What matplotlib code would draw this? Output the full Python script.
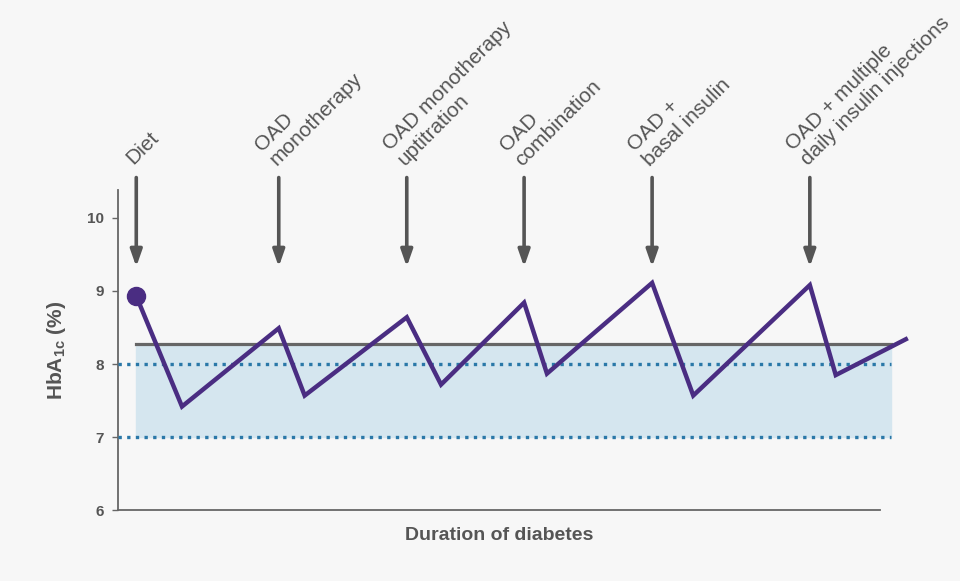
import numpy as np
import matplotlib
matplotlib.use("Agg")
import matplotlib.pyplot as plt

plt.rcParams['font.family'] = ['Liberation Sans', 'DejaVu Sans']
plt.rcParams['mathtext.fontset'] = 'custom'
plt.rcParams['mathtext.rm'] = 'Liberation Sans'

# HbA1c course over time (x in arbitrary duration units 0..100)
hba1c_x = [2.4, 8.4, 21.1, 24.5, 37.9, 42.4, 53.3, 56.3, 70.1, 75.5, 90.8, 94.2, 103.4]
hba1c_y = [8.93, 7.42, 8.49, 7.57, 8.64, 7.72, 8.84, 7.87, 9.11, 7.57, 9.08, 7.85, 8.34]

# treatment steps
step_x = [2.4, 21.1, 37.9, 53.3, 70.1, 90.8]
step_labels = ['Diet', 'OAD\nmonotherapy', 'OAD monotherapy\nuptitration',
               'OAD\ncombination', 'OAD +\nbasal insulin',
               'OAD + multiple\ndaily insulin injections']

band_x = [2.4, 101.4]
band_lo, band_hi = 7.0, 8.27
target_lines = [7.0, 8.0]
yticks = [6, 7, 8, 9, 10]

bg = '#f7f7f7'
grey = '#555555'
purple = '#4a2d82'

fig = plt.figure(figsize=(9.6, 5.81), dpi=100, facecolor=bg)
ax = fig.add_axes([0.1229, 0.1215, 0.7937, 0.5515], facecolor=bg)
ax.set_xlim(0, 100)
ax.set_ylim(6, 10.38)

# target band
ax.fill_between(band_x, band_lo, band_hi, color='#d5e6ef', clip_on=False, zorder=1)
ax.plot(band_x, [band_hi, band_hi], color='#666666', lw=2.3, clip_on=False, zorder=2)
for v in target_lines:
    ax.plot([0, band_x[1]], [v, v], color='#2a78a8', lw=2.4, ls=(0, (1, 1.6)),
            clip_on=False, zorder=3)

# HbA1c line
ax.plot(hba1c_x, hba1c_y, color=purple, lw=3.2, clip_on=False, zorder=4,
        solid_joinstyle='miter')
ax.plot(hba1c_x[0], hba1c_y[0], 'o', color=purple, ms=13, zorder=5, clip_on=False)

# arrows and step labels
for x, lab in zip(step_x, step_labels):
    ax.annotate('', xy=(x, 9.33), xytext=(x, 10.55), xycoords='data',
                arrowprops=dict(arrowstyle='-|>,head_width=0.35,head_length=1.0',
                                color=grey, lw=2.6, shrinkA=0, shrinkB=0),
                annotation_clip=False)
    ax.annotate(lab, xy=(x, 10.55), xytext=(-2.5, 9), textcoords='offset points',
                rotation=45, rotation_mode='anchor', ha='left', va='baseline',
                fontsize=15, color=grey, linespacing=1.15, annotation_clip=False)

for s in ['top', 'right']:
    ax.spines[s].set_visible(False)
for s in ['left', 'bottom']:
    ax.spines[s].set_color('#666666')
    ax.spines[s].set_linewidth(1.3)

ax.set_xticks([])
ax.set_yticks(yticks)
ax.tick_params(axis='y', length=4, width=1, color='#666666', labelsize=11,
               labelcolor=grey, pad=6)
for t in ax.get_yticklabels():
    t.set_fontweight('bold')

ax.set_ylabel('HbA$_\\mathregular{1c}$ (%)', fontsize=15, fontweight='bold', color=grey,
              labelpad=14)
ax.set_xlabel('Duration of diabetes', fontsize=14, fontweight='bold', color=grey, labelpad=12)

fig.savefig('out.png', dpi=100, facecolor=bg)
